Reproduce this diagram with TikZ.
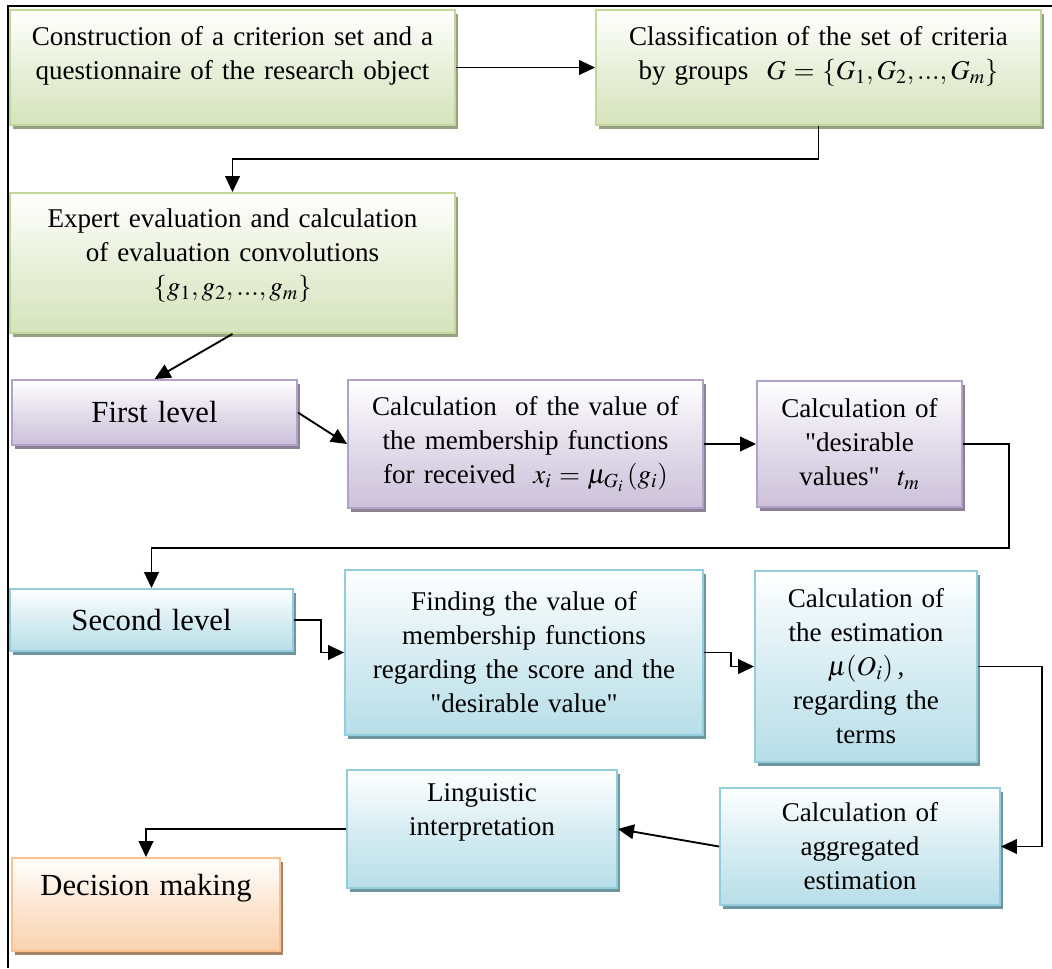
\documentclass[tikz,border=0pt]{standalone}
\usepackage{mathptmx}
\usepackage[no-math]{fontspec}
\setmainfont{Liberation Serif}
\usetikzlibrary{arrows.meta, shadows}
\definecolor{greenfill}{RGB}{214,227,188}
\definecolor{greenline}{RGB}{195,214,155}
\definecolor{greenshade}{RGB}{150,160,130}
\definecolor{violetfill}{RGB}{204,193,218}
\definecolor{violetline}{RGB}{179,162,199}
\definecolor{violetshade}{RGB}{140,130,150}
\definecolor{bluefill}{RGB}{183,222,232}
\definecolor{blueline}{RGB}{147,205,221}
\definecolor{blueshade}{RGB}{110,150,160}
\definecolor{orangefill}{RGB}{250,210,175}
\definecolor{orangeline}{RGB}{250,192,144}
\definecolor{orangeshade}{RGB}{170,130,100}
\tikzset{
	stage/.style={
		draw,
		line width=1.4pt,
		align=center,
		inner xsep=2pt,
		inner ysep=4pt,
		font=\fontsize{20.3}{25.5}\selectfont
	},
	biglabel/.style={
		font=\fontsize{23}{27}\selectfont
	},
	greenbox/.style={
		stage, draw=greenline,
		top color=white, bottom color=greenfill, middle color=greenfill!55!white,
		drop shadow={fill=greenshade, opacity=1, shadow xshift=2.5pt, shadow yshift=-3pt}
	},
	violetbox/.style={
		stage, draw=violetline,
		top color=white, bottom color=violetfill, middle color=violetfill!55!white,
		drop shadow={fill=violetshade, opacity=1, shadow xshift=2.5pt, shadow yshift=-3pt}
	},
	bluebox/.style={
		stage, draw=blueline,
		top color=white, bottom color=bluefill, middle color=bluefill!55!white,
		drop shadow={fill=blueshade, opacity=1, shadow xshift=2.5pt, shadow yshift=-3pt}
	},
	orangebox/.style={
		stage, draw=orangeline,
		top color=white, bottom color=orangefill, middle color=orangefill!55!white,
		drop shadow={fill=orangeshade, opacity=1, shadow xshift=2.5pt, shadow yshift=-3pt}
	},
	flow/.style={
		-{Triangle[length=12pt, width=11pt]},
		line width=1.4pt
	}
}

\begin{document}
\begin{tikzpicture}[x=0.75pt, y=-0.75pt]
		\useasboundingbox (0,0) rectangle (1052,968);
		\draw[line width=1.3pt] (8,968) -- (8,6) -- (1052,6);
		
		\node(crit)[greenbox, text width=329.75pt, minimum height=86.25pt, text depth=48pt] at (232.5,67.5)
			{Construction of a criterion set and a\\ questionnaire of the research object};
		\node(groups)[greenbox, text width=329.75pt, minimum height=86.25pt, text depth=48pt] at (818.5,67.5)
			{Classification of the set of criteria\\ by groups \ $G=\{G_1,G_2,...,G_m\}$};
		\node(expert)[greenbox, text width=329.75pt, minimum height=105pt, text depth=68pt] at (232.5,263)
			{Expert evaluation and calculation\\ of evaluation convolutions\\ $\{g_1,g_2,...,g_m\}$};
		
		\node(lvlone)[violetbox, biglabel, text width=209.75pt, minimum height=48.75pt] at (154.5,412.5) {First level};
		\node(member)[violetbox, text width=262.25pt, minimum height=96pt] at (525.5,444)
			{Calculation \ of the value of\\ the membership functions\\ for received \ $x_i=\mu_{G_i}\,(g_i)$};
		\node(desire)[violetbox, text width=149.75pt, minimum height=94.5pt] at (859.5,444)
			{Calculation of\\ \textquotedbl desirable\\ values\textquotedbl\ \ $t_m$};
		
		\node(lvltwo)[bluebox, biglabel, text width=208.25pt, minimum height=46.5pt] at (151.5,620) {Second level};
		\node(finding)[bluebox, text width=264.5pt, minimum height=123.75pt] at (524,652.5)
			{Finding the value of\\ membership functions\\ regarding the score and the\\ \textquotedbl desirable value\textquotedbl};
		\node(estim)[bluebox, text width=162.5pt, minimum height=143.25pt] at (866,666.5)
			{Calculation of\\ the estimation\\ $\mu(O_i)$\,,\\ regarding the\\ terms};
		\node(aggr)[bluebox, text width=206pt, minimum height=87.75pt] at (860,846.5)
			{Calculation of\\ aggregated\\ estimation};
		\node(ling)[bluebox, text width=198.5pt, minimum height=88.5pt, text depth=54pt] at (482,829)
			{Linguistic\\ interpretation};
		
		\node(decis)[orangebox, biglabel, text width=197pt, minimum height=69.75pt, text depth=30pt] at (146,904.5) {Decision making};
		
		\draw[flow] (crit) -- (groups);
		\draw[flow] (groups.south) -- ++(0,33) -| (expert.north);
		\draw[flow] (expert.south) -- (lvlone.north);
		\draw[flow] (lvlone.east) -- (member.west);
		\draw[flow] (member) -- (desire);
		\draw[flow] (desire.east) -- ++(46,0) -- ++(0,104) -| (lvltwo.north);
		\draw[flow] (lvltwo.east) -- ++(27,0) |- (finding.west);
		\draw[flow] (finding.east) -- ++(27,0) |- (estim.west);
		\draw[flow] (estim.east) -- ++(64,0) |- (aggr.east);
		\draw[flow] (aggr.west) -- (ling.east);
		\draw[flow] (ling.west) -| (decis.north);
		
\end{tikzpicture}
\end{document}
